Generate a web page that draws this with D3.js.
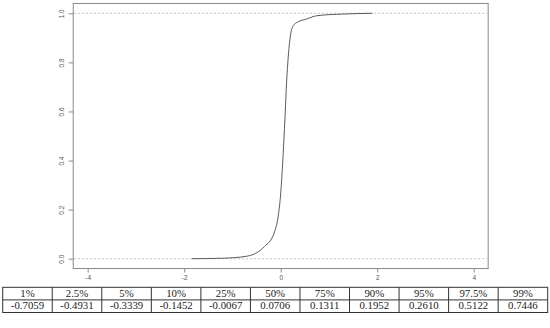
<!DOCTYPE html>
<html>
<head>
<meta charset="utf-8">
<script src="https://cdn.jsdelivr.net/npm/d3@7"></script>
<style>
html,body{margin:0;padding:0;background:#fff;}
svg{display:block;}
</style>
</head>
<body>
<svg id="chart" width="550" height="328"></svg>
<script>
// ---- data ----
const curveX = [-1.84, -1.2, -0.7059, -0.4931, -0.3339, -0.1452, -0.0067, 0.0706, 0.1311, 0.1952, 0.2610, 0.33, 0.40, 0.5122, 0.7446, 1.3, 1.9];
const curveF = [0, 0.002, 0.01, 0.025, 0.05, 0.10, 0.25, 0.50, 0.75, 0.90, 0.95, 0.962, 0.969, 0.975, 0.99, 0.997, 1.0];
const xTicks = [-4, -2, 0, 2, 4];
const yTicks = [0.0, 0.2, 0.4, 0.6, 0.8, 1.0];
const refLines = [0, 1];
const tableHeaders = ["1%", "2.5%", "5%", "10%", "25%", "50%", "75%", "90%", "95%", "97.5%", "99%"];
const tableValues = ["-0.7059", "-0.4931", "-0.3339", "-0.1452", "-0.0067", "0.0706", "0.1311", "0.1952", "0.2610", "0.5122", "0.7446"];

const svg = d3.select("#chart");

const x = d3.scaleLinear().domain([-4, 4]).range([87.7, 473.7]);
const y = d3.scaleLinear().domain([0, 1]).range([258.7, 13.3]);

const bx0 = x(-4.3), bx1 = x(4.3), by0 = y(1.04), by1 = y(-0.04);

// reference dashed lines
svg.selectAll("line.ref").data(refLines).enter().append("line")
  .attr("x1", bx0 + 1).attr("x2", bx1 - 1)
  .attr("y1", d => y(d)).attr("y2", d => y(d))
  .attr("stroke", "#b3b3b3").attr("stroke-width", 0.8)
  .attr("stroke-dasharray", "2,2");

// curve
const pts = curveX.map((v, i) => [v, curveF[i]]);
svg.append("path").datum(pts)
  .attr("d", d3.line().x(d => x(d[0])).y(d => y(d[1])).curve(d3.curveMonotoneX))
  .attr("fill", "none").attr("stroke", "#5a5a5a").attr("stroke-width", 1);

// box
svg.append("rect").attr("x", bx0).attr("y", by0)
  .attr("width", bx1 - bx0).attr("height", by1 - by0)
  .attr("fill", "none").attr("stroke", "#8a8a8a").attr("stroke-width", 1);

// axes
const xAxis = svg.append("g").attr("transform", `translate(0,${by1})`)
  .call(d3.axisBottom(x).tickValues(xTicks).tickSize(4).tickPadding(3).tickFormat(d3.format("d")));
const yAxis = svg.append("g").attr("transform", `translate(${bx0},0)`)
  .call(d3.axisLeft(y).tickValues(yTicks).tickSize(4.5).tickFormat(d3.format(".1f")));
[xAxis, yAxis].forEach(g => {
  g.select(".domain").remove();
  g.selectAll(".tick line").attr("stroke", "#8a8a8a");
  g.selectAll("text").attr("fill", "#555").style("font-family", "Liberation Sans, Arial, sans-serif").style("font-size", "6.5px");
});
xAxis.selectAll("text").text(d => d < 0 ? "-" + Math.abs(d) : d);
yAxis.selectAll(".tick text")
  .attr("x", null).attr("dy", null)
  .attr("transform", "translate(-11,0) rotate(-90)")
  .attr("text-anchor", "middle")
  .attr("dominant-baseline", "middle");

// table
const tx0 = 2.7, tx1 = 547.7, ty0 = 287.3, rowH = 12.6;
const colW = (tx1 - tx0) / tableHeaders.length;
const tg = svg.append("g");
tg.append("rect").attr("x", tx0).attr("y", ty0).attr("width", tx1 - tx0).attr("height", rowH * 2)
  .attr("fill", "none").attr("stroke", "#333").attr("stroke-width", 1);
tg.append("line").attr("x1", tx0).attr("x2", tx1).attr("y1", ty0 + rowH).attr("y2", ty0 + rowH)
  .attr("stroke", "#333").attr("stroke-width", 1);
tg.selectAll("line.col").data(d3.range(1, tableHeaders.length)).enter().append("line")
  .attr("x1", i => tx0 + i * colW).attr("x2", i => tx0 + i * colW)
  .attr("y1", ty0).attr("y2", ty0 + rowH * 2)
  .attr("stroke", "#333").attr("stroke-width", 1);
[tableHeaders, tableValues].forEach((row, r) => {
  tg.selectAll(null).data(row).enter().append("text")
    .attr("x", (d, i) => tx0 + (i + 0.5) * colW)
    .attr("y", ty0 + (r + 0.5) * rowH + 0.5)
    .attr("text-anchor", "middle").attr("dominant-baseline", "middle")
    .style("font-family", "Liberation Serif, 'DejaVu Serif', serif").style("font-size", "10.8px")
    .attr("fill", "#222")
    .text(d => d);
});
</script>
</body>
</html>
